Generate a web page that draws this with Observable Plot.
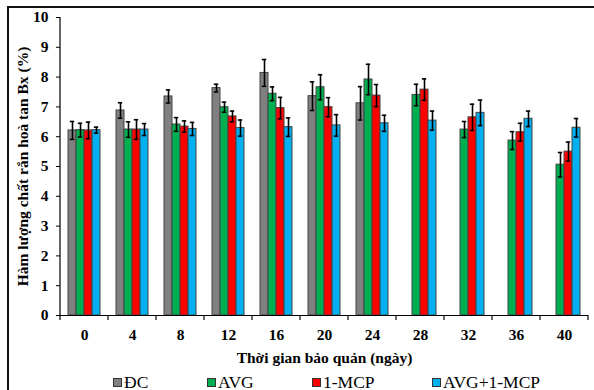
<!DOCTYPE html>
<html><head><meta charset="utf-8">
<script src="https://cdn.jsdelivr.net/npm/d3@7"></script>
<script src="https://cdn.jsdelivr.net/npm/@observablehq/plot@0.6"></script>
<style>
body{margin:0;background:#fff;overflow:hidden}
#wrap{position:relative;width:594px;height:390px;overflow:hidden;font-family:"Liberation Serif",serif;background:#fff}
#chart{position:absolute;left:0;top:0}
#chart svg text{font-family:"Liberation Serif",serif !important;font-size:15.5px !important;font-weight:bold !important;fill:#000}
#frame{position:absolute;left:7px;top:6px;width:620px;height:420px;border-left:2px solid #111;border-top:2px solid #111;pointer-events:none}
#legend{position:absolute;top:371px;left:0;height:22px;width:594px}
.item{position:absolute;top:0;height:22px;display:flex;align-items:center;font-size:17.5px;color:#000;white-space:nowrap}
.sw{width:7px;height:7px;border:1px solid #333;margin-right:2px}
</style></head>
<body><div id="wrap"><div id="chart"></div><div id="frame"></div><div id="legend"></div></div>
<script>
const days = [0, 4, 8, 12, 16, 20, 24, 28, 32, 36, 40];
const series = ["ĐC", "AVG", "1-MCP", "AVG+1-MCP"];
const colors = ["#808080", "#00B050", "#FF0000", "#00B0F0"];
const yTicks = [0, 1, 2, 3, 4, 5, 6, 7, 8, 9, 10];

const dcMean = [6.21, 6.88, 7.35, 7.63, 8.14, 7.36, 7.12];
const dcErr  = [0.30, 0.26, 0.22, 0.13, 0.45, 0.48, 0.56];
const avgMean = [6.22, 6.24, 6.41, 6.99, 7.44, 7.66, 7.92, 7.40, 6.24, 5.87, 5.06];
const avgErr  = [0.23, 0.26, 0.23, 0.17, 0.23, 0.42, 0.51, 0.36, 0.27, 0.30, 0.41];
const mcpMean = [6.21, 6.24, 6.34, 6.68, 6.96, 6.99, 7.38, 7.58, 6.65, 6.15, 5.50];
const mcpErr  = [0.28, 0.33, 0.19, 0.18, 0.36, 0.32, 0.37, 0.36, 0.44, 0.30, 0.32];
const bothMean = [6.22, 6.24, 6.26, 6.29, 6.32, 6.38, 6.45, 6.54, 6.80, 6.60, 6.30];
const bothErr  = [0.10, 0.20, 0.22, 0.27, 0.31, 0.36, 0.27, 0.32, 0.43, 0.26, 0.31];

const means = [dcMean, avgMean, mcpMean, bothMean];
const errs = [dcErr, avgErr, mcpErr, bothErr];
const rows = [];
series.forEach((s, i) => {
  days.forEach((d, j) => {
    const v = means[i][j];
    if (v !== undefined) rows.push({day: d, series: s, v, e: errs[i][j]});
  });
});

const plot = Plot.plot({
  width: 594, height: 368,
  marginLeft: 58, marginRight: 5, marginTop: 17, marginBottom: 53,
  style: {fontFamily: "Liberation Serif", fontWeight: "bold", fontSize: "15.5px", color: "#000", background: "transparent"},
  fx: {domain: days, padding: 0, label: null, axis: null},
  x: {domain: series, paddingInner: 0, paddingOuter: 0.84, axis: null},
  y: {domain: [0, 10], axis: null},
  color: {domain: series, range: colors},
  marks: [
    Plot.barY(rows, {fx: "day", x: "series", y: "v", fill: "series", stroke: "#444", strokeWidth: 1}),
    Plot.ruleX(rows, {fx: "day", x: "series", y1: d => d.v - d.e, y2: d => d.v + d.e, stroke: "#000", strokeWidth: 1.6}),
    Plot.tickY(rows, {fx: "day", x: "series", y: d => d.v - d.e, stroke: "#000", strokeWidth: 1.6, inset: 1.8}),
    Plot.tickY(rows, {fx: "day", x: "series", y: d => d.v + d.e, stroke: "#000", strokeWidth: 1.6, inset: 1.8}),
    Plot.ruleY([0], {stroke: "#000", strokeWidth: 1.2}),
    Plot.axisFx({anchor: "bottom", domain: days, tickSize: 0, tickPadding: 13,
      label: "Thời gian bảo quản (ngày)", labelAnchor: "center", labelOffset: 47, labelArrow: "none"}),
    Plot.axisY({ticks: yTicks, tickSize: 4, tickPadding: 8,
      label: "Hàm lượng chất rắn hoà tan Bx (%)", labelAnchor: "center", labelOffset: 44, labelArrow: "none"})
  ]
});
document.getElementById("chart").appendChild(plot);

// axis line and category boundary ticks drawn from the plot's own scales
const fx = plot.scale("fx");
const ys = plot.scale("y");
const svg = d3.select(plot.tagName === "svg" ? plot : plot.querySelector("svg"));
const y0 = ys.apply(0), y10 = ys.apply(10);
const x0 = fx.apply(days[0]);
const bounds = days.map(d => fx.apply(d)).concat([fx.apply(days[days.length - 1]) + fx.bandwidth]);
const g = svg.append("g").attr("stroke", "#000");
g.append("line").attr("x1", x0).attr("x2", x0).attr("y1", y10).attr("y2", y0).attr("stroke-width", 1.2);
g.selectAll("line.b").data(bounds).join("line").attr("class", "b")
  .attr("x1", d => d).attr("x2", d => d).attr("y1", y0).attr("y2", y0 + 5).attr("stroke-width", 1.2);

// legend
const legendLeft = [113, 207, 312, 432];
const leg = document.getElementById("legend");
series.forEach((s, i) => {
  const it = document.createElement("div");
  it.className = "item";
  it.style.left = legendLeft[i] + "px";
  const sw = document.createElement("span");
  sw.className = "sw";
  sw.style.background = colors[i];
  it.appendChild(sw);
  it.appendChild(document.createTextNode(s));
  leg.appendChild(it);
});
</script>
</body></html>
